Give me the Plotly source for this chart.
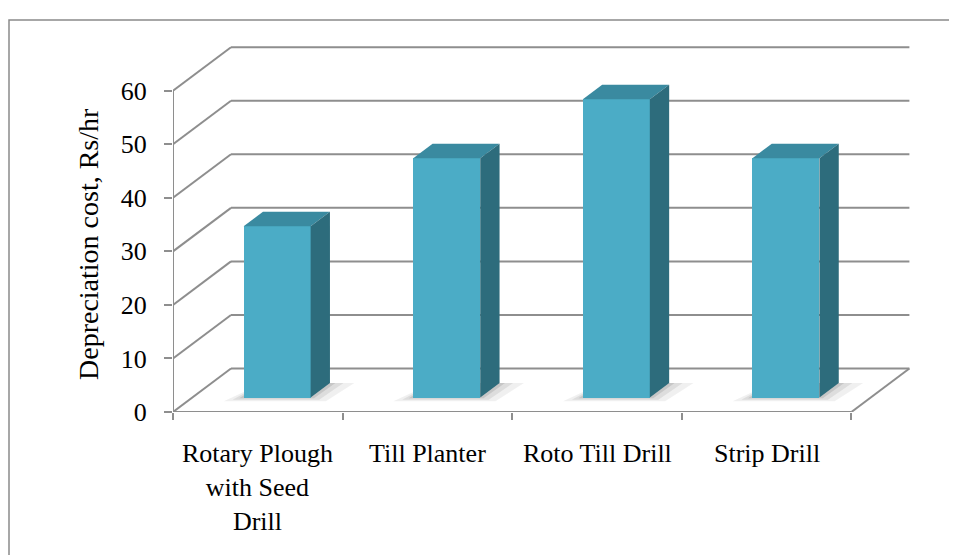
import plotly.graph_objects as go

categories = ["Rotary Plough<br>with Seed<br>Drill", "Till Planter", "Roto Till Drill", "Strip Drill"]
values = [32.0, 44.7, 55.7, 44.7]
y_ticks = [0, 10, 20, 30, 40, 50, 60]
y_title = "Depreciation cost, Rs/hr"

# oblique projection (depth vector in data units)
DX, DY = 0.342, 8.12
BAR_W = 0.395
FRONT = "#4BACC6"
TOP = "#3A8AA0"
SIDE = "#2D6C7C"
GRID = "#8E8E8E"
FONT = "Liberation Serif"

OFF = 8  # page body margin
W, H = 957 - OFF, 555 - OFF
L, T = 173 - OFF, 44 - OFF
R = 46
B = H - (412 - OFF)
pw, ph = W - L - R, H - T - B
xr = pw / 169.6
yr = ph / 5.355

def px_x(p):  # reference pixel -> paper x
    return (p - OFF - L) / pw

def px_y(p):  # reference pixel -> paper y
    return (H - B - (p - OFF)) / ph

fig = go.Figure()
shapes = []

def seg(x0, y0, x1, y1):
    shapes.append(dict(type="line", xref="x", yref="y", x0=x0, y0=y0, x1=x1, y1=y1,
                       line=dict(color=GRID, width=2), layer="below"))

n = len(categories)
for v in y_ticks:
    seg(DX, v + DY, n + DX, v + DY)   # back wall
    seg(0, v, DX, v + DY)             # side wall
seg(0, 0, n, 0)                       # floor front edge
seg(n, 0, n + DX, DY)                 # floor right edge
seg(0, 0, 0, y_ticks[-1])             # vertical axis line

base = DY / 3
dxb, dyb = DX / 3, DY / 3

# soft shadows
for i in range(n):
    x0 = i + 0.5 + dxb - BAR_W / 2
    x1 = x0 + BAR_W
    for grow, op in [(0.09, 0.06), (0.05, 0.08), (0.02, 0.10)]:
        path = (f"M {x0 - grow*1.3} {base - grow*8} L {x1 + grow} {base - grow*8} "
                f"L {x1 + dxb + grow*1.6} {base + dyb} L {x0 + dxb} {base + dyb} Z")
        shapes.append(dict(type="path", xref="x", yref="y", path=path,
                           fillcolor=f"rgba(0,0,0,{op})", line=dict(width=0), layer="below"))

# front faces
fig.add_trace(go.Bar(
    x=[i + 0.5 + dxb for i in range(n)], y=values, base=base, width=BAR_W,
    marker=dict(color=FRONT, line=dict(width=0)), showlegend=False, hoverinfo="skip"))

# top and side faces
for i, v in enumerate(values):
    x0 = i + 0.5 + dxb - BAR_W / 2
    x1 = x0 + BAR_W
    ytop = base + v
    fig.add_trace(go.Scatter(
        x=[x0, x1, x1 + dxb, x0 + dxb, x0], y=[ytop, ytop, ytop + dyb, ytop + dyb, ytop],
        fill="toself", fillcolor=TOP, mode="lines", line=dict(width=0, color=TOP),
        showlegend=False, hoverinfo="skip"))
    fig.add_trace(go.Scatter(
        x=[x1, x1, x1 + dxb, x1 + dxb, x1], y=[base, ytop, ytop + dyb, base + dyb, base],
        fill="toself", fillcolor=SIDE, mode="lines", line=dict(width=0, color=SIDE),
        showlegend=False, hoverinfo="skip"))

# outer frame (right and bottom edges run off the picture)
shapes.append(dict(type="rect", xref="paper", yref="paper",
                   x0=px_x(9), x1=px_x(962), y0=px_y(560), y1=px_y(20),
                   line=dict(color="#8A8A8A", width=1.5), layer="below"))

annotations = []
for i, c in enumerate(categories):
    annotations.append(dict(x=i + 0.5, xref="x", y=0, yref="paper", yanchor="top",
                            yshift=-25, text=c, showarrow=False, align="center",
                            font=dict(family=FONT, size=26, color="black")))
annotations.append(dict(x=px_x(88), xref="paper", y=px_y(244), yref="paper",
                        xanchor="center", yanchor="middle",
                        text=y_title, textangle=-90, showarrow=False,
                        font=dict(family=FONT, size=28, color="black")))

fig.update_layout(
    width=W, height=H, margin=dict(l=L, r=R, t=T, b=B, autoexpand=False),
    paper_bgcolor="white", plot_bgcolor="rgba(0,0,0,0)",
    shapes=shapes, annotations=annotations, bargap=0,
    xaxis=dict(range=[0, xr], showgrid=False, zeroline=False, showticklabels=False,
               tickvals=list(range(n + 1)), ticks="outside", ticklen=7, tickwidth=2,
               tickcolor=GRID, showline=False, fixedrange=True),
    yaxis=dict(range=[0, yr], showgrid=False, zeroline=False, tickvals=y_ticks,
               ticks="outside", ticklen=8, tickwidth=2, tickcolor=GRID, showline=False,
               tickfont=dict(family=FONT, size=26, color="black"), ticklabelstandoff=12,
               fixedrange=True),
)

fig.write_html("out.html")
